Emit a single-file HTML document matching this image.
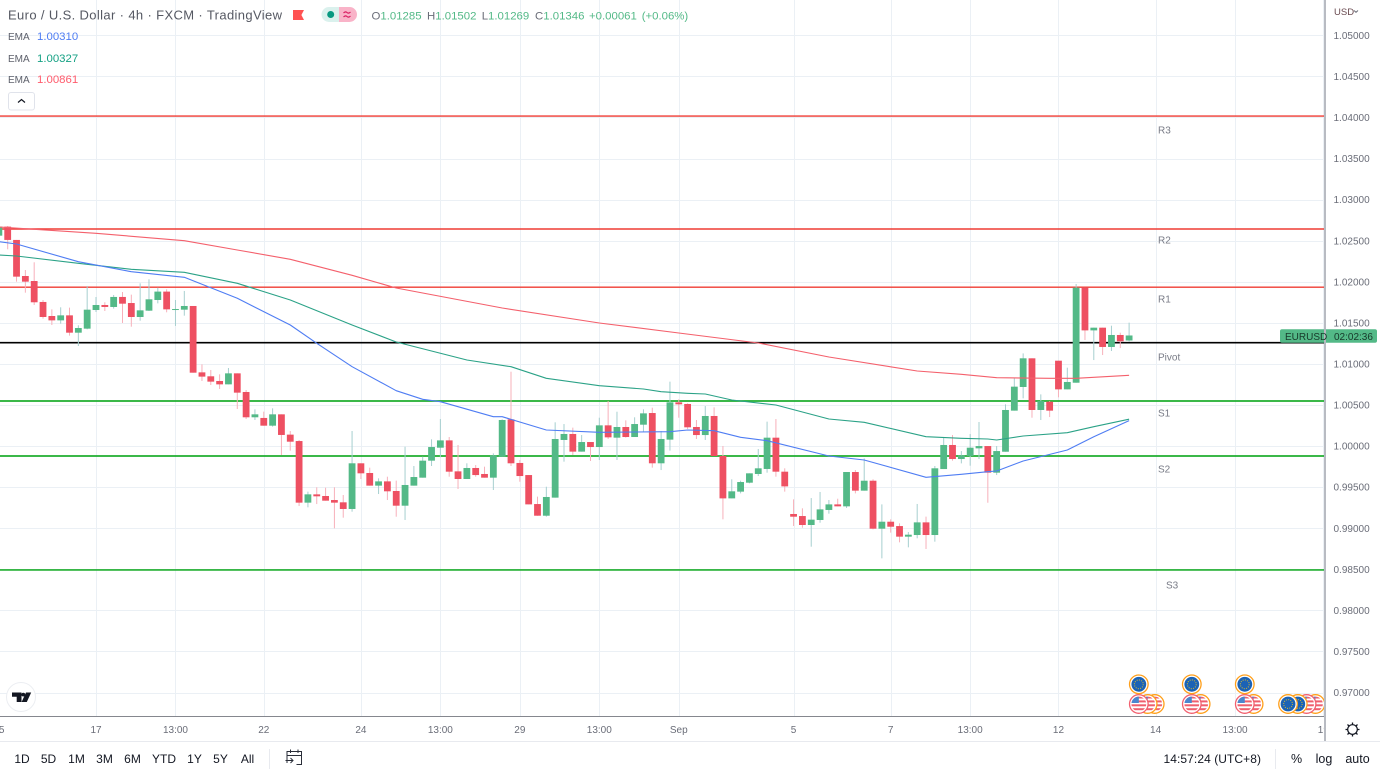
<!DOCTYPE html>
<html lang="en">
<head>
<meta charset="utf-8">
<title>EUR/USD 4h chart</title>
<style>
html,body{margin:0;padding:0;background:#fff;width:1380px;height:776px;overflow:hidden}
svg{display:block;position:absolute;left:0;top:0;font-family:"Liberation Sans",sans-serif}
text{white-space:pre}
</style>
</head>
<body>
<svg id="chart" width="1380" height="776" viewBox="0 0 1380 776" xmlns="http://www.w3.org/2000/svg">
  <rect x="0" y="0" width="1380" height="776" fill="#ffffff"/>
  <g id="grid"></g>
  <g id="levels"></g>
  <g id="candles"></g>
  <g id="emas"></g>
  <g id="events"></g>

  <g>
    <circle cx="21" cy="697" r="14.500" fill="#ffffff" stroke="#eceef2" stroke-width="1"/>
    <path d="M12 692.500h9.500v9.500h-4.800v-5.200h-4.700zM26 692.500h5.200l-4.400 9.500h-5.200z" fill="#131722"/>
    <circle cx="23.300" cy="694.600" r="1.900" fill="#131722"/>
  </g>

  <g id="timeAxis">
    <rect x="0" y="717" width="1325" height="24" fill="#ffffff"/>
    <rect x="0" y="716" width="1325" height="1" fill="#85878e"/>
  </g>

  <g id="priceAxis">
    <rect x="1326" y="0" width="54" height="741" fill="#ffffff"/>
    <rect x="1324" y="0" width="2" height="741" fill="#b8bbc2"/>
  </g>

  <g>
    <text x="1334" y="15" font-size="9.500" fill="#6a4a50">USD</text>
    <path d="M1354 10.500l2 1.800 2-1.800" fill="none" stroke="#6a6d78" stroke-width="1"/>
  </g>

  <g>
    <rect x="1280" y="329.300" width="97" height="13.500" rx="2" fill="#53b987"/>
    <rect x="1324" y="329.300" width="2" height="13.500" fill="#b8bbc2"/>
    <text x="1285" y="340" font-size="10" fill="#17392a">EURUSD</text>
    <text x="1334" y="340" font-size="10" fill="#17392a">02:02:36</text>
  </g>

  <g>
    <text x="8" y="19.500" font-size="13" fill="#555862" textLength="274" lengthAdjust="spacing">Euro / U.S. Dollar · 4h · FXCM · TradingView</text>
    <path d="M293 10h11l-2.600 5 2.600 5h-11z" fill="#ff5252"/>
    <g>
      <path d="M339 7h-10a7.500 7.500 0 0 0 0 15h10z" fill="#daf1ed"/>
      <circle cx="330.700" cy="14.500" r="3.500" fill="#089981"/>
      <path d="M339 7h10.500a7.500 7.500 0 0 1 0 15h-10.500z" fill="#f9b3c8"/>
      <path d="M343.500 13q2-2 3.500-0.500t3.500-0.500M343.500 17q2-2 3.500-0.500t3.500-0.500" fill="none" stroke="#d81b60" stroke-width="1.200"/>
    </g>
    <g font-size="11.400" fill="#53b987">
      <text x="371.500" y="19.300"><tspan fill="#6a6d78">O</tspan>1.01285</text>
      <text x="427" y="19.300"><tspan fill="#6a6d78">H</tspan>1.01502</text>
      <text x="481.700" y="19.300"><tspan fill="#6a6d78">L</tspan>1.01269</text>
      <text x="535" y="19.300"><tspan fill="#6a6d78">C</tspan>1.01346</text>
      <text x="589" y="19.300">+0.00061</text>
      <text x="641.700" y="19.300">(+0.06%)</text>
    </g>
    <g>
      <text x="8" y="40" font-size="10" fill="#5d606b">EMA</text>
      <text x="37" y="40" font-size="11.400" fill="#4f7df3">1.00310</text>
    </g>
    <g>
      <text x="8" y="62" font-size="10" fill="#5d606b">EMA</text>
      <text x="37" y="62" font-size="11.400" fill="#15a184">1.00327</text>
    </g>
    <g>
      <text x="8" y="83" font-size="10" fill="#5d606b">EMA</text>
      <text x="37" y="83" font-size="11.400" fill="#ff5b6c">1.00861</text>
    </g>
    <g>
      <rect x="8.500" y="92.500" width="26" height="17.500" rx="2.500" fill="#ffffff" stroke="#e0e3eb"/>
      <path d="M18 102.500l3.500-3 3.500 3" fill="none" stroke="#131722" stroke-width="1.200"/>
    </g>
  </g>

  <g id="levelLabels"></g>

  <g>
    <rect x="0" y="742" width="1380" height="34" fill="#ffffff"/>
    <rect x="0" y="741" width="1380" height="1" fill="#e8eaef"/>
    <g font-size="12" fill="#131722" text-anchor="middle">
      <text x="22" y="763">1D</text>
      <text x="48.500" y="763">5D</text>
      <text x="76.500" y="763">1M</text>
      <text x="104.500" y="763">3M</text>
      <text x="132.500" y="763">6M</text>
      <text x="164" y="763">YTD</text>
      <text x="194.500" y="763">1Y</text>
      <text x="220.500" y="763">5Y</text>
      <text x="247.500" y="763">All</text>
    </g>
    <rect x="269" y="749" width="1" height="20" fill="#e8eaef"/>
    <path d="M287 763v-11.500h14.500v13h-5M287 755.500h14.500M290.500 749.500v3.500M298 749.500v3.500M285.500 760.500h7M290.500 758l2.500 2.500-2.500 2.500" fill="none" stroke="#2a2e39" stroke-width="1"/>
    <text x="1163.500" y="763" font-size="12" fill="#131722" textLength="97.500" lengthAdjust="spacing">14:57:24 (UTC+8)</text>
    <rect x="1275" y="749" width="1" height="20" fill="#e8eaef"/>
    <text x="1296.500" y="763" font-size="12.500" fill="#131722" text-anchor="middle">%</text>
    <text x="1324" y="763" font-size="12.500" fill="#131722" text-anchor="middle">log</text>
    <text x="1357.500" y="763" font-size="12.500" fill="#131722" text-anchor="middle">auto</text>
  </g>

  <g>
    <circle cx="1352.500" cy="729.500" r="4.800" fill="none" stroke="#131722" stroke-width="1.200"/>
    <path d="M1352.500 722.500v2M1352.500 734.500v2M1345.500 729.500h2M1357.500 729.500h2M1347.500 724.500l1.400 1.400M1356.100 733.100l1.400 1.400M1347.500 734.500l1.400-1.400M1356.100 725.900l1.400-1.400" fill="none" stroke="#131722" stroke-width="1.300"/>
  </g>
</svg>

<script>
// ---- Candle data (bar index starts at -1) ----
const barOpen = [1.02561,1.02671,1.02509,1.02070,1.02009,1.01754,1.01583,1.01530,1.01591,1.01380,
1.01429,1.01656,1.01717,1.01693,1.01815,1.01741,1.01571,1.01648,1.01778,1.01880,
1.01660,1.01660,1.01705,1.00897,1.00849,1.00792,1.00751,1.00885,1.00658,1.00350,
1.00342,1.00248,1.00386,1.00139,1.00061,0.99311,0.99412,0.99392,0.99343,0.99315,
0.99234,0.99790,0.99672,0.99518,0.99570,0.99453,0.99274,0.99518,0.99615,0.99822,
0.99980,1.00069,0.99692,0.99599,0.99733,0.99660,0.99615,0.99871,1.00325,0.99794,
0.99647,0.99294,0.99152,0.99372,1.00074,1.00147,0.99932,1.00049,0.99988,1.00252,
1.00102,1.00232,1.00110,1.00260,1.00402,0.99790,1.00078,1.00532,1.00512,1.00232,
1.00134,1.00366,0.99879,0.99363,0.99445,0.99554,0.99660,0.99721,1.00102,0.99688,
0.99173,0.99148,0.99039,0.99100,0.99222,0.99290,0.99266,0.99684,0.99457,0.99578,
0.98994,0.99079,0.99026,0.98897,0.98917,0.99071,0.98917,0.99720,1.00013,0.99842,
0.99879,0.99972,1.00000,0.99676,0.99931,1.00431,1.00719,1.01068,1.00439,1.00540,
1.01039,1.00690,1.00771,1.01928,1.01408,1.01441,1.01206,1.01352,1.01285];
const barHigh = [1.02680,1.02679,1.02509,1.02143,1.02237,1.01778,1.01664,1.01689,1.01685,1.01470,
1.01949,1.01815,1.01750,1.01839,1.01875,1.01843,1.01981,1.02030,1.01928,1.01908,
1.01778,1.01888,1.01705,1.00995,1.00926,1.00873,1.00950,1.00885,1.00682,1.00447,
1.00419,1.00459,1.00386,1.00183,1.00074,0.99445,0.99498,0.99493,0.99498,0.99404,
1.00183,0.99790,0.99737,0.99607,0.99627,0.99579,0.99992,0.99757,0.99871,1.00082,
1.00329,1.00110,1.00013,0.99790,0.99769,0.99749,0.99911,1.00325,1.00905,0.99830,
0.99647,0.99384,0.99505,1.00289,1.00268,1.00224,1.00134,1.00049,1.00345,1.00548,
1.00418,1.00313,1.00350,1.00447,1.00467,1.00183,1.00784,1.00569,1.00520,1.00317,
1.00487,1.00471,1.00001,0.99595,0.99578,0.99668,0.99964,1.00297,1.00329,0.99729,
0.99351,0.99242,0.99367,0.99441,0.99343,0.99359,0.99684,0.99708,0.99850,0.99595,
0.99290,0.99108,0.99059,0.98953,0.99295,0.99141,0.99757,1.00102,1.00134,0.99939,
1.00146,1.00293,1.00000,1.00000,1.00508,1.00832,1.01128,1.01068,1.00629,1.00548,
1.01039,1.00954,1.01973,1.01928,1.01441,1.01441,1.01465,1.01380,1.01502];
const barLow = [1.02500,1.02395,1.02001,1.01867,1.01717,1.01551,1.01474,1.01490,1.01344,1.01218,
1.01421,1.01632,1.01644,1.01673,1.01498,1.01453,1.01526,1.01644,1.01737,1.01628,
1.01462,1.01587,1.00893,1.00792,1.00743,1.00695,1.00751,1.00451,1.00329,1.00317,
1.00248,1.00236,0.99891,0.99944,0.99270,0.99254,0.99294,0.99335,0.98998,0.99128,
0.99201,0.99599,0.99518,0.99416,0.99343,0.99140,0.99100,0.99518,0.99615,0.99757,
0.99863,0.99627,0.99477,0.99599,0.99627,0.99615,0.99465,0.99871,0.99757,0.99566,
0.99290,0.99152,0.99140,0.99372,0.99810,0.99891,0.99932,0.99818,0.99830,1.00086,
0.99830,1.00102,1.00110,1.00175,0.99737,0.99708,0.99944,1.00345,1.00207,1.00086,
1.00074,0.99879,0.99108,0.99363,0.99424,0.99546,0.99635,0.99676,0.99627,0.99445,
0.99027,0.99006,0.98775,0.99067,0.99177,0.99266,0.99246,0.99424,0.99457,0.98986,
0.98633,0.98946,0.98828,0.98767,0.98877,0.98747,0.98836,0.99720,0.99822,0.99789,
0.99761,0.99842,0.99310,0.99647,0.99931,1.00431,1.00581,1.00345,1.00317,1.00353,
1.00593,1.00690,1.00771,1.01291,1.01047,1.01108,1.01157,1.01193,1.01269];
const barClose = [1.02671,1.02509,1.02062,1.02001,1.01750,1.01571,1.01530,1.01591,1.01380,1.01437,
1.01660,1.01717,1.01693,1.01815,1.01733,1.01571,1.01652,1.01786,1.01880,1.01664,
1.01668,1.01705,1.00893,1.00845,1.00784,1.00751,1.00885,1.00650,1.00350,1.00386,
1.00248,1.00386,1.00135,1.00053,0.99311,0.99412,0.99388,0.99335,0.99311,0.99234,
0.99790,0.99668,0.99518,0.99570,0.99449,0.99274,0.99526,0.99623,0.99822,0.99988,
1.00069,0.99688,0.99599,0.99733,0.99647,0.99615,0.99887,1.00317,0.99790,0.99635,
0.99290,0.99152,0.99380,1.00086,1.00147,0.99932,1.00049,0.99988,1.00252,1.00106,
1.00232,1.00110,1.00268,1.00398,0.99790,1.00086,1.00532,1.00508,1.00228,1.00134,
1.00366,0.99879,0.99363,0.99449,0.99562,0.99668,0.99729,1.00102,0.99688,0.99509,
0.99140,0.99039,0.99104,0.99229,0.99290,0.99266,0.99684,0.99457,0.99578,0.98994,
0.99079,0.99018,0.98897,0.98921,0.99071,0.98917,0.99729,1.00013,0.99842,0.99887,
0.99980,1.00000,0.99676,0.99939,1.00439,1.00723,1.01068,1.00439,1.00548,1.00431,
1.00690,1.00780,1.01928,1.01408,1.01441,1.01206,1.01352,1.01275,1.01346];

// ---- EMA readings ----
const emaFastBars = [-1,1,8,14,20,26,32,35,39,44,47,49,55,56,61,67,75,77,80,83,86,93,97,104,108,111,112,115,120,123,127];
const emaFastValues = [1.02488,1.02460,1.02244,1.02122,1.02054,1.01799,1.01474,1.01251,1.00966,1.00674,1.00569,1.00540,1.00357,1.00357,1.00195,1.00167,1.00175,1.00195,1.00187,1.00107,1.00065,0.99879,0.99830,0.99620,0.99656,0.99688,0.99696,0.99818,0.99952,1.00114,1.00310];
const emaMidBars = [-1,1,8,14,20,26,32,39,44,52,57,61,67,72,74,77,79,82,87,93,97,104,108,111,112,115,120,123,127];
const emaMidValues = [1.02326,1.02314,1.02225,1.02152,1.02115,1.01981,1.01778,1.01474,1.01267,1.01048,1.00966,1.00825,1.00735,1.00695,1.00662,1.00642,1.00634,1.00561,1.00500,1.00329,1.00289,1.00114,1.00094,1.00086,1.00074,1.00122,1.00162,1.00235,1.00327];
const emaSlowBars = [-1,10,20,26,32,39,44,56,67,76,85,93,103,108,112,118,121,127];
const emaSlowValues = [1.02666,1.02590,1.02500,1.02386,1.02273,1.02078,1.01924,1.01680,1.01498,1.01376,1.01254,1.01084,1.00914,1.00873,1.00832,1.00825,1.00825,1.00861];

// ---- Levels ----
const levelNames = ["R3","R2","R1","Pivot","S1","S2","S3"];
const levelValues = [1.04017,1.02642,1.01934,1.01258,1.00548,0.99879,0.98492];

// ---- Axis ticks ----
const priceTicks = [1.05,1.045,1.04,1.035,1.03,1.025,1.02,1.015,1.01,1.005,1.0,0.995,0.99,0.985,0.98,0.975,0.97];
const priceTickLabels = ["1.05000","1.04500","1.04000","1.03500","1.03000","1.02500","1.02000","1.01500","1.01000","1.00500","1.00000","0.99500","0.99000","0.98500","0.98000","0.97500","0.97000"];
const timeTickBars = [-1,10,19,29,40,49,58,67,76,89,100,109,119,130,139,149];
const timeTickLabels = ["15","17","13:00","22","24","13:00","29","13:00","Sep","5","7","13:00","12","14","13:00","19"];

// ---- Economic events: bar slots ----
const euEventBars = [128.1,134.1,140.1,146.1,145];
const usEventBars = [129.9,129.1,128.1,135.1,134.1,141.1,140.1,148.1,147.1];

// ---- Axis functions ----
const NS = "http://www.w3.org/2000/svg";
function xOf(bar){ return 7.7 + 8.83 * bar; }
function yOf(price){ return 35.3 + (1.05 - price) * 8215; }
function mk(tag, attrs, parent){
  const el = document.createElementNS(NS, tag);
  for (const k in attrs) el.setAttribute(k, attrs[k]);
  parent.appendChild(el);
  return el;
}

// Grid
const gridG = document.getElementById("grid");
priceTicks.forEach(function(p){
  const y = Math.round(yOf(p)) + 0.5;
  const el = mk("line", {x1:0, x2:1324, y1:y, y2:y, stroke:"#ebf0f5", "stroke-width":1}, gridG);
  
  
});
timeTickBars.forEach(function(b){
  const x = Math.round(xOf(b)) + 0.5;
  const el = mk("line", {x1:x, x2:x, y1:0, y2:716, stroke:"#ebf0f5", "stroke-width":1}, gridG);
  
  
});

// Pivot levels
const levelsG = document.getElementById("levels");
const labelsG = document.getElementById("levelLabels");
function labelGap(name){
  if (name === "R3") return 17.5;
  if (name === "R2") return 14.5;
  if (name === "R1") return 15.2;
  if (name === "Pivot") return 17.8;
  if (name === "S1") return 15.5;
  if (name === "S2") return 16.5;
  return 18.5;
}
levelNames.forEach(function(name, i){
  const isPivot = name === "Pivot";
  const isRes = name.charAt(0) === "R";
  const y = yOf(levelValues[i]);
  const line = mk("line", {
    x1:0, x2:1324, y1:y, y2:y,
    stroke: isPivot ? "#000000" : (isRes ? "#ef3b33" : "#1fae2f"),
    "stroke-width": isRes ? 1.4 : 1.7
  }, levelsG);
  
  
  const labelX = name === "S3" ? 1166 : 1158;
  const t = mk("text", {x:labelX, y:y + labelGap(name), "font-size":10, fill:"#787b86"}, labelsG);
  
  
  t.textContent = name;
});

// Candles
const candlesG = document.getElementById("candles");
barOpen.forEach(function(o, i){
  const bar = i - 1;
  const c = barClose[i];
  const up = c >= o;
  const x = xOf(bar);
  const g = mk("g", {}, candlesG);
  
  
  const wick = mk("line", {
    x1:x, x2:x, y1:yOf(barHigh[i]), y2:yOf(barLow[i]),
    stroke: up ? "#a6cfcf" : "#f7b0ba", "stroke-width":1
  }, g);
  
  
  const top = yOf(Math.max(o, c));
  const h = Math.max(yOf(Math.min(o, c)) - top, 1);
  const body = mk("rect", {
    x:x - 3.4, y:top, width:6.8, height:h,
    fill: up ? "#53b987" : "#ee5062"
  }, g);
  
  
});

// EMA lines
const emasG = document.getElementById("emas");
function drawEma(bars, values, color, name){
  const pts = bars.map(function(b, i){ return xOf(b).toFixed(1) + "," + yOf(values[i]).toFixed(1); }).join(" ");
  const el = mk("polyline", {points:pts, fill:"none", stroke:color, "stroke-width":1.1, "stroke-linejoin":"round"}, emasG);
  
  
}
drawEma(emaSlowBars, emaSlowValues, "#f4606c", "ema-line-red");
drawEma(emaMidBars, emaMidValues, "#2ba287", "ema-line-green");
drawEma(emaFastBars, emaFastValues, "#4f7df3", "ema-line-blue");

// Price axis labels
const priceAxisG = document.getElementById("priceAxis");
priceTicks.forEach(function(p, i){
  const t = mk("text", {x:1333.5, y:yOf(p) + 3.6, "font-size":10, fill:"#6a6d78"}, priceAxisG);
  
  
  t.textContent = priceTickLabels[i];
});

// Time axis labels
const timeAxisG = document.getElementById("timeAxis");
timeTickBars.forEach(function(b, i){
  const t = mk("text", {x:xOf(b), y:733, "font-size":10, fill:"#6a6d78", "text-anchor":"middle"}, timeAxisG);
  
  
  t.textContent = timeTickLabels[i];
});

// Event icons
const eventsG = document.getElementById("events");
const defs = mk("defs", {}, eventsG);
let clipN = 0;
function euIcon(cx, cy, name){
  const g = mk("g", {}, eventsG);
  
  
  const ring = mk("circle", {cx:cx, cy:cy, r:9.3, fill:"#ffffff", stroke:"#ff9f1a", "stroke-width":1.3}, g);
  
  
  const disc = mk("circle", {cx:cx, cy:cy, r:7.4, fill:"#1b62b5"}, g);
  
  
  const stars = mk("circle", {cx:cx, cy:cy, r:4.4, fill:"none", stroke:"#c9b23a", "stroke-width":1.1, "stroke-dasharray":"1 1.3"}, g);
  
  
}
function usIcon(cx, cy, ringColor, name){
  const g = mk("g", {}, eventsG);
  
  
  const ring = mk("circle", {cx:cx, cy:cy, r:9.3, fill:"#ffffff", stroke:ringColor, "stroke-width":1.3}, g);
  
  
  const id = "usclip" + (clipN++);
  const cp = mk("clipPath", {id:id}, defs);
  mk("circle", {cx:cx, cy:cy, r:7.4}, cp);
  const flag = mk("g", {"clip-path":"url(#" + id + ")"}, g);
  
  
  mk("rect", {x:cx - 8, y:cy - 8, width:16, height:16, fill:"#ffffff"}, flag);
  for (let s = 0; s < 4; s++) {
    mk("rect", {x:cx - 8, y:cy - 7.5 + s * 3.9, width:16, height:2, fill:"#ef5f6e"}, flag);
  }
  mk("rect", {x:cx - 8, y:cy - 8, width:8, height:7, fill:"#4a86cf"}, flag);
}
usEventBars.forEach(function(b, i){
  usIcon(xOf(b), 704, (i === 2 || i === 4 || i === 6 || i === 8) ? "#f2606f" : "#ff9f1a", 'event-us');
});
euEventBars.forEach(function(b, i){
  euIcon(xOf(b), i < 3 ? 684.3 : 704, 'event-eu');
});
</script>
</body>
</html>
